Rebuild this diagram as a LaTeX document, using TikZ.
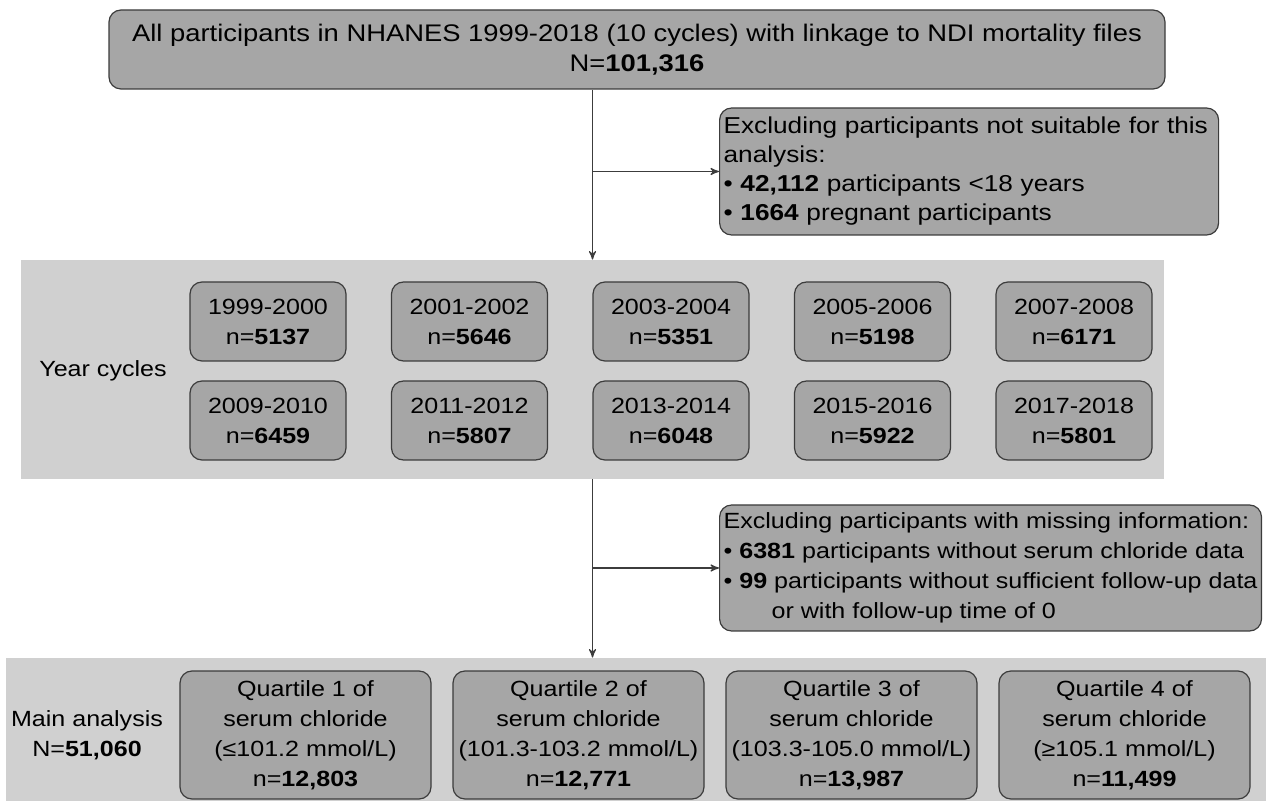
\documentclass[tikz,border=0pt]{standalone}
\usepackage{fontspec}
\setmainfont{Liberation Sans}[FakeStretch=1.14]
\usepackage{tikz}
\usetikzlibrary{arrows}
\definecolor{boxgray}{RGB}{166,166,166}
\definecolor{bandgray}{RGB}{208,208,208}
\definecolor{linegray}{RGB}{60,60,60}

\begin{document}
\begin{tikzpicture}
[->,>=stealth',x=0.5pt,y=-0.5pt,node distance=100.75pt,font=\fontsize{11}{15}\selectfont]
  \tikzstyle{box}=[draw=linegray,fill=boxgray,rounded corners=6pt,line width=0.6pt,align=center,inner sep=2pt]
  \tikzstyle{yearbox}=[box,minimum width=78pt,minimum height=39.5pt]
  \tikzstyle{quartbox}=[box,minimum width=125.5pt,minimum height=64pt]
  \tikzstyle{exclbox}=[box,align=left,anchor=west,inner xsep=2pt]
  \tikzstyle{band}=[fill=bandgray,inner sep=0pt]
  \tikzstyle{link}=[draw=linegray,line width=0.6pt]

  \useasboundingbox (0,0) rectangle (1269,801);

  \node[band,minimum width=571.5pt,minimum height=109.5pt] (cycles) at (592.5,369.5) {};
  \node[band,minimum width=630pt,minimum height=71.5pt] (main) at (636,729.5) {};

  \node[box,minimum width=528pt,minimum height=39.5pt,font=\fontsize{12}{15}\selectfont] (all) at (637,49.5)
    {All participants in NHANES 1999-2018 (10 cycles) with linkage to NDI mortality files\\N=\textbf{101,316}};
  \node[exclbox,text width=245.5pt,minimum height=63.5pt,font=\fontsize{11.5}{14.5}\selectfont] (excl1) at (719,171.5)
    {Excluding participants not suitable for this\\analysis:\\• \textbf{42,112} participants <18 years\\• \textbf{1664} pregnant participants};
  \node[exclbox,minimum height=63pt] (excl2) at (719,568)
    {Excluding participants with missing information:\\• \textbf{6381} participants without serum chloride data\\• \textbf{99} participants without sufficient follow-up data\\\hspace*{24pt}or with follow-up time of 0};

  % year cycles
  \node (yc) at (103,371) {Year cycles};
  \node[yearbox] (c1999) at (268,321.5) {1999-2000\\n=\textbf{5137}};
  \node[yearbox] (c2001) [right of=c1999] {2001-2002\\n=\textbf{5646}};
  \node[yearbox] (c2003) [right of=c2001] {2003-2004\\n=\textbf{5351}};
  \node[yearbox] (c2005) [right of=c2003] {2005-2006\\n=\textbf{5198}};
  \node[yearbox] (c2007) [right of=c2005] {2007-2008\\n=\textbf{6171}};
  \node[yearbox] (c2009) [node distance=49.5pt,below of=c1999] {2009-2010\\n=\textbf{6459}};
  \node[yearbox] (c2011) [right of=c2009] {2011-2012\\n=\textbf{5807}};
  \node[yearbox] (c2013) [right of=c2011] {2013-2014\\n=\textbf{6048}};
  \node[yearbox] (c2015) [right of=c2013] {2015-2016\\n=\textbf{5922}};
  \node[yearbox] (c2017) [right of=c2015] {2017-2018\\n=\textbf{5801}};

  % main analysis
  \node[align=center] (ma) at (87,735) {Main analysis\\N=\textbf{51,060}};
  \node[quartbox] (q1) at (305.5,735) {Quartile 1 of\\serum chloride\\(≤101.2 mmol/L)\\n=\textbf{12,803}};
  \node[quartbox] (q2) [node distance=136.5pt,right of=q1] {Quartile 2 of\\serum chloride\\(101.3-103.2 mmol/L)\\n=\textbf{12,771}};
  \node[quartbox] (q3) [node distance=136.5pt,right of=q2] {Quartile 3 of\\serum chloride\\(103.3-105.0 mmol/L)\\n=\textbf{13,987}};
  \node[quartbox] (q4) [node distance=136.5pt,right of=q3] {Quartile 4 of\\serum chloride\\(≥105.1 mmol/L)\\n=\textbf{11,499}};

  \coordinate (j1) at (cycles.north |- excl1.west);
  \coordinate (j2) at (cycles.south |- excl2.west);
  \path (all.south -| cycles.north) edge[link] (cycles.north)
        (cycles.south) edge[link] (cycles.south |- main.north)
        (j1) edge[link] (excl1)
        (j2) edge[link] (excl2);
\end{tikzpicture}
\end{document}
